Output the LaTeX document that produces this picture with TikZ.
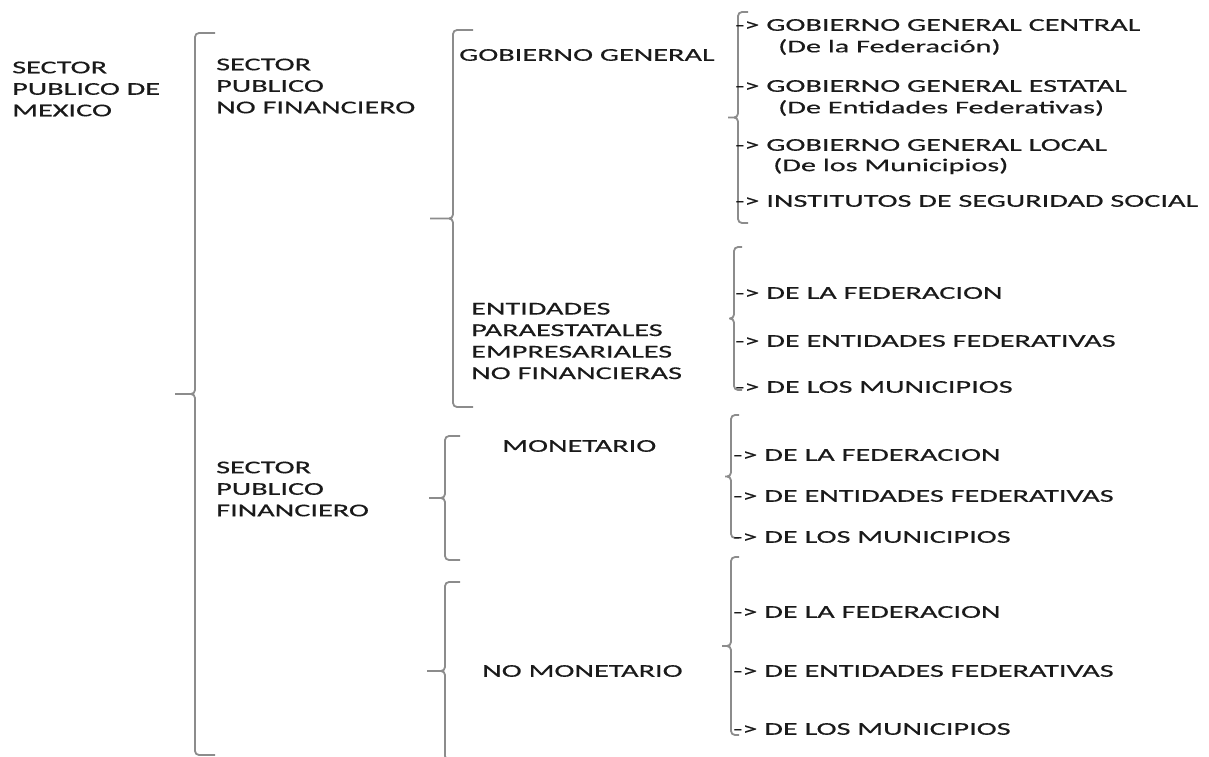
\documentclass[tikz,border=0pt]{standalone}
\usepackage{fontspec}
\setmainfont{Carlito}[FakeStretch=1.68,FakeBold=0.4]
\definecolor{llavegris}{HTML}{8C8C8C}
\definecolor{letra}{HTML}{1A1A1A}
\tikzset{
  txt/.style={anchor=west, inner sep=0pt, text=letra, align=left, font=\fontsize{18}{21.5}\selectfont},
  llavelinea/.style={draw=llavegris, line width=1.8pt, rounded corners=4pt}
}
% \llave{x}{arriba}{abajo}{gancho}{punta}
\newcommand{\llave}[5]{%
  \draw[llavelinea] ({#1+#4},#2) -- (#1,#2) -- (#1,{(#2+#3)/2}) -- ({#1-#5},{(#2+#3)/2})
    ({#1-#5},{(#2+#3)/2}) -- (#1,{(#2+#3)/2}) -- (#1,#3) -- ({#1+#4},#3);}
\begin{document}
\begin{tikzpicture}[x=1pt,y=-1pt]
\useasboundingbox (0,0) rectangle (1209,756);
% llaves
\llave{195}{33}{755}{20}{20}
\llave{453}{30}{407}{20}{23}
\llave{445}{436}{560}{15}{16}
\llave{445}{582}{760}{15}{18}
\llave{738}{12}{223}{10}{10}
\llave{734}{247}{390}{8}{5}
\llave{731}{415}{538}{8}{6}
\llave{731}{557}{735}{8}{9}
% primer nivel
\node[txt] (spm) at (12,89) {SECTOR\\PUBLICO DE\\MEXICO};
\node[txt] (spnf) at (216,86) {SECTOR\\PUBLICO\\NO FINANCIERO};
\node[txt] (spf) at (216,489) {SECTOR\\PUBLICO\\FINANCIERO};
% segundo nivel
\node[txt] (gg) at (459,55) {GOBIERNO GENERAL};
\node[txt] (epe) at (471,341) {ENTIDADES\\PARAESTATALES\\EMPRESARIALES\\NO FINANCIERAS};
\node[txt] (mon) at (502,446) {MONETARIO};
\node[txt] (nomon) at (482,671) {NO MONETARIO};
% gobierno general
\node[txt] (ggc) at (735,25) {-> GOBIERNO GENERAL CENTRAL};
\node[txt] (ggcs) at (778,47) {(De la Federación)};
\node[txt] (gge) at (735,86) {-> GOBIERNO GENERAL ESTATAL};
\node[txt] (gges) at (778,108) {(De Entidades Federativas)};
\node[txt] (ggl) at (735,145) {-> GOBIERNO GENERAL LOCAL};
\node[txt] (ggls) at (773,166) {(De los Municipios)};
\node[txt] (iss) at (735,201) {-> INSTITUTOS DE SEGURIDAD SOCIAL};
% paraestatales
\node[txt] (epef) at (735,293) {-> DE LA FEDERACION};
\node[txt] (epee) at (735,341) {-> DE ENTIDADES FEDERATIVAS};
\node[txt] (epem) at (735,387) {-> DE LOS MUNICIPIOS};
% monetario
\node[txt] (monf) at (733,455) {-> DE LA FEDERACION};
\node[txt] (mone) at (733,496) {-> DE ENTIDADES FEDERATIVAS};
\node[txt] (monm) at (733,537) {-> DE LOS MUNICIPIOS};
% no monetario
\node[txt] (nomonf) at (733,612) {-> DE LA FEDERACION};
\node[txt] (nomone) at (733,671) {-> DE ENTIDADES FEDERATIVAS};
\node[txt] (nomonm) at (733,729) {-> DE LOS MUNICIPIOS};
\end{tikzpicture}
\end{document}
